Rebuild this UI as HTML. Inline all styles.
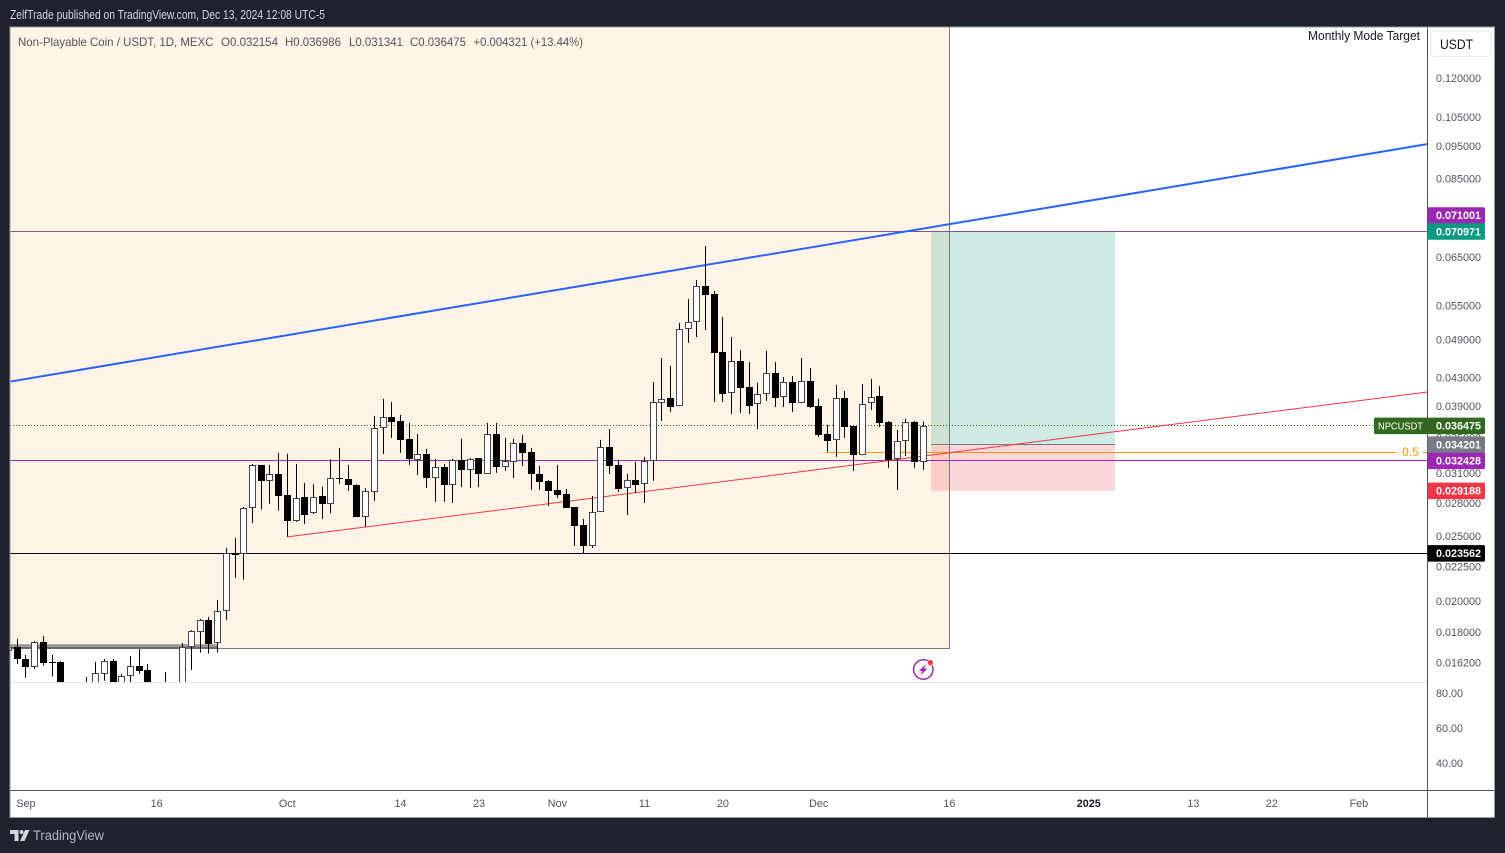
<!DOCTYPE html>
<html lang="en">
<head>
<meta charset="utf-8">
<title>NPCUSDT chart</title>
<style>
html,body{margin:0;padding:0;background:#1e222d;width:1505px;height:853px;overflow:hidden}
svg{display:block}
text{font-family:"Liberation Sans",sans-serif}
</style>
</head>
<body>
<svg id="chart" xmlns="http://www.w3.org/2000/svg" width="1505" height="853" viewBox="0 0 1505 853">
  <defs>
    <clipPath id="main-clip"><rect x="10.5" y="27.5" width="1416.5" height="654.5"/></clipPath>
  </defs>
  <rect x="0" y="0" width="1505" height="853" fill="#1e222d"/>
  <text x="10" y="19" font-size="12.5" fill="#d1d4dc" textLength="315" lengthAdjust="spacingAndGlyphs">ZelfTrade published on TradingView.com, Dec 13, 2024 12:08 UTC-5</text>
  <rect x="10" y="27" width="1484.5" height="790.5" fill="#ffffff" stroke="#9598a1" stroke-width="1"/>
  <g id="drawings" clip-path="url(#main-clip)"></g>
  <g id="candles" clip-path="url(#main-clip)"></g>
  <line x1="10.5" y1="682.5" x2="1427" y2="682.5" stroke="#e0e3eb" stroke-width="1"/>
  <line x1="10.5" y1="790.5" x2="1494" y2="790.5" stroke="#50535e" stroke-width="1"/>
  <line x1="1427.5" y1="27.5" x2="1427.5" y2="817" stroke="#50535e" stroke-width="1"/>
  <text x="18" y="46" font-size="12" fill="#50535e" textLength="195.5" lengthAdjust="spacingAndGlyphs">Non-Playable Coin / USDT, 1D, MEXC</text>
  <text x="221" y="46" font-size="12" fill="#50535e" textLength="57" lengthAdjust="spacingAndGlyphs">O0.032154</text>
  <text x="285" y="46" font-size="12" fill="#50535e" textLength="56" lengthAdjust="spacingAndGlyphs">H0.036986</text>
  <text x="349" y="46" font-size="12" fill="#50535e" textLength="54" lengthAdjust="spacingAndGlyphs">L0.031341</text>
  <text x="410" y="46" font-size="12" fill="#50535e" textLength="56" lengthAdjust="spacingAndGlyphs">C0.036475</text>
  <text x="473.5" y="46" font-size="12" fill="#50535e" textLength="109.5" lengthAdjust="spacingAndGlyphs">+0.004321 (+13.44%)</text>
  <text x="1308" y="40" font-size="12.5" fill="#131722" textLength="112" lengthAdjust="spacingAndGlyphs">Monthly Mode Target</text>
  <g id="price-ticks"></g>
  <g id="volume-ticks"></g>
  <g id="time-ticks"></g>
  <g id="price-tags"></g>
  <rect x="1431" y="31" width="60" height="25.5" rx="4" fill="#ffffff" stroke="#e6e9f2" stroke-width="1"/>
  <text x="1440" y="49" font-size="13.5" fill="#131722" textLength="33" lengthAdjust="spacingAndGlyphs">USDT</text>
  <text x="1402" y="456" font-size="12" fill="#ff9800" textLength="17" lengthAdjust="spacingAndGlyphs">0.5</text>
  <g>
    <circle cx="923.3" cy="669.5" r="9.7" fill="#ffffff" stroke="#9c27b0" stroke-width="1.5"/>
    <polygon points="926,664 919,671 922.5,671 920.5,675.5 927.5,668.5 924,668.5" fill="#9c27b0"/>
    <circle cx="930.3" cy="662.6" r="3" fill="#f23645" stroke="#ffffff" stroke-width="0.6"/>
  </g>
  <g>
    <polygon points="10,830 18.5,830 18.5,841 14.5,841 14.5,834 10,834" fill="#d1d4dc"/>
    <circle cx="21.5" cy="832" r="2" fill="#d1d4dc"/>
    <polygon points="25,830 29.5,830 24.5,841 20,841" fill="#d1d4dc"/>
    <text x="33" y="840" font-size="13.5" fill="#b2b5be" textLength="71" lengthAdjust="spacingAndGlyphs">TradingView</text>
  </g>
</svg>
<script>
// Candle data, daily from Aug 30 2024 to Dec 13 2024
var opens = [
.01684,.01707,.01638,.01593,.01738,.01622,.01623,.01450,.01430,.01440,
.01474,.01559,.01628,.01480,.01549,.01600,.01579,.01480,.01470,.01500,
.01490,.01707,.01797,.01872,.01730,.01931,.02356,.02348,.02754,.03185,
.03015,.03092,.02874,.02634,.02852,.02707,.02867,.02792,.03047,.03039,
.02977,.02667,.02909,.03623,.03757,.03706,.03485,.03243,.03311,.03052,
.03166,.02977,.03243,.03137,.03265,.03095,.03546,.03170,.03224,.03438,
.03333,.03092,.03018,.02926,.02887,.02760,.02595,.02418,.02716,.03391,
.03188,.02943,.03028,.02984,.03229,.03938,.04011,.03898,.05074,.05198,
.05886,.05727,.04695,.04075,.04552,.04164,.03925,.04062,.04369,.04020,
.04236,.03938,.04251,.03902,.03546,.03469,.04011,.03644,.03296,.03938,
.04038,.03694,.03251,.03458,.03694,.032154];
var highs = [
.01715,.01756,.01662,.01744,.01774,.01662,.01628,.01490,.01480,.01542,
.01623,.01640,.01640,.01558,.01656,.01697,.01612,.01510,.01568,.01515,
.01732,.01811,.01881,.01894,.02007,.02398,.02482,.02760,.03199,.03188,
.03188,.03322,.03311,.03199,.02997,.02987,.02957,.03251,.03380,.03188,
.02984,.02943,.03771,.03997,.03956,.03783,.03681,.03546,.03368,.03254,
.03199,.03254,.03485,.03265,.03265,.03681,.03681,.03497,.03485,.03534,
.03380,.03177,.03028,.03188,.02936,.02760,.02649,.02867,.03473,.03606,
.03243,.03092,.03221,.03277,.04236,.04598,.04475,.05185,.05628,.06007,
.06750,.05785,.05291,.04942,.04727,.04536,.04222,.04711,.04536,.04309,
.04324,.04598,.04444,.03997,.03657,.04193,.04107,.03644,.04207,.04280,
.04178,.03706,.03594,.03732,.03706,.036986];
var lows = [
.01680,.01612,.01538,.01586,.01603,.01544,.01420,.01400,.01390,.01410,
.01450,.01522,.01460,.01460,.01505,.01558,.01460,.01440,.01450,.01470,
.01470,.01579,.01676,.01670,.01676,.01874,.02164,.02151,.02611,.02735,
.02792,.02726,.02493,.02622,.02604,.02695,.02648,.02704,.02987,.02916,
.02667,.02577,.02818,.03311,.03497,.03322,.03188,.03081,.02946,.02809,
.02809,.02799,.02955,.02946,.02955,.03095,.03102,.03123,.03048,.03177,
.02926,.02926,.02770,.02848,.02751,.02415,.02358,.02398,.02714,.03092,
.02906,.02686,.02897,.02799,.03018,.03706,.03822,.03898,.04842,.04942,
.05062,.03956,.03956,.03796,.03809,.03796,.03606,.03970,.03888,.03888,
.03822,.03938,.03874,.03509,.03333,.03277,.03497,.03123,.03296,.03848,
.03630,.03156,.02926,.03288,.03156,.031341];
var closes = [
.01707,.01638,.01597,.01736,.01619,.01620,.01450,.01430,.01440,.01490,
.01561,.01627,.01480,.01546,.01599,.01575,.01480,.01470,.01500,.01490,
.01707,.01803,.01872,.01726,.01931,.02356,.02344,.02748,.03185,.03021,
.03088,.02870,.02634,.02845,.02686,.02852,.02790,.03046,.03044,.02977,
.02667,.02913,.03615,.03753,.03694,.03473,.03254,.03311,.03048,.03163,
.02977,.03243,.03134,.03251,.03092,.03546,.03166,.03232,.03434,.03322,
.03092,.03008,.02916,.02877,.02751,.02587,.02415,.02711,.03387,.03177,
.02936,.03025,.02977,.03232,.03952,.03993,.03893,.05074,.05198,.05878,
.05707,.04679,.04066,.04547,.04150,.03902,.04062,.04365,.04011,.04232,
.03942,.04246,.03888,.03534,.03461,.04006,.03630,.03300,.03925,.04020,
.03681,.03243,.03458,.03690,.03215,.036475];

// Axis ticks
var priceTicks = [0.12,0.105,0.095,0.085,0.065,0.055,0.049,0.043,0.039,0.035,0.031,0.028,0.025,0.0225,0.02,0.018,0.0162];
var volumeTicks = [80,60,40];
var timeTickLabels = ["Sep","16","Oct","14","23","Nov","11","20","Dec","16","2025","13","22","Feb"];
var timeTickBars = [2,17,32,45,54,63,73,82,93,108,124,136,145,155];
var timeTickBold = ["2025"];

// Drawing levels (prices and bar indexes)
var levelEntry = 0.034201;
var levelTarget = 0.070971;
var levelStop = 0.029188;
var levelLast = 0.036475;
var levelPurple = 0.032428;
var levelPurpleTop = 0.071001;
var levelBlack = 0.023562;
var levelFib = 0.03328;
var rangeBoxBottom = 0.01700;
var rangeBandTop = 0.01725;
var rangeBoxEndBar = 108;
var rangeBandEndBar = 24;
var positionBars = [106,127];
var blueTrendBars = [0.26,162.9];
var blueTrendPrices = [0.04243,0.09571];
var redTrendBars = [32,162.9];
var redTrendPrices = [0.02491,0.04093];
var fibStartBar = 93.8;

var NS = "http://www.w3.org/2000/svg";
function xBar(i){ return 287.3 + 8.712 * (i - 32); }
function yPrice(p){ return 78 + 291.9 * Math.log(0.12 / p); }
function yLine(p){ return Math.floor(yPrice(p) + 0.2) + 0.5; }
function yVolume(v){ return 693 + (80 - v) * 1.75; }
function mk(parent, tag, attrs, txt){
  var node = document.createElementNS(NS, tag);
  for (var k in attrs) node.setAttribute(k, attrs[k]);
  if (txt !== undefined) node.textContent = txt;
  parent.appendChild(node);
  return node;
}
var dr = document.getElementById("drawings");
var el;

// Range box
var boxRight = Math.floor(xBar(rangeBoxEndBar)) + 0.5;
var boxBottom = Math.round(yPrice(rangeBoxBottom)) + 0.5;
el = mk(dr, "rect", {x:10, y:27, width:boxRight-10, height:boxBottom-27, fill:"#fff4e5", stroke:"#787b86", "stroke-width":1});


var bandTop = yPrice(rangeBandTop);
el = mk(dr, "rect", {x:10, y:bandTop, width:xBar(rangeBandEndBar)-10, height:boxBottom-bandTop, fill:"#9c978e"});


el = mk(dr, "line", {x1:10, y1:boxBottom-0.5, x2:xBar(rangeBandEndBar), y2:boxBottom-0.5, stroke:"#6a6c75", "stroke-width":2});



// Long position tool
var posL = Math.floor(xBar(positionBars[0]));
var posR = Math.round(xBar(positionBars[1]));
var yT = Math.round(yPrice(levelTarget));
var yE = Math.round(yPrice(levelEntry));
var yS = Math.round(yPrice(levelStop));
el = mk(dr, "rect", {x:posL, y:yT, width:posR-posL, height:yE-yT, fill:"#089981", "fill-opacity":0.2});


el = mk(dr, "rect", {x:posL, y:yE, width:posR-posL, height:yS-yE, fill:"#f23645", "fill-opacity":0.2});


el = mk(dr, "line", {x1:posL, y1:yE+0.5, x2:posR, y2:yE+0.5, stroke:"#787b86", "stroke-width":1});


// Redraw box right edge above the position zones
el = mk(dr, "line", {x1:boxRight, y1:27, x2:boxRight, y2:boxBottom, stroke:"#787b86", "stroke-width":1});



// Horizontal levels
el = mk(dr, "line", {x1:10, y1:yLine(levelPurpleTop), x2:1427, y2:yLine(levelPurpleTop), stroke:"#7d5a85", "stroke-width":1});


el = mk(dr, "line", {x1:10, y1:yLine(levelPurple), x2:1427, y2:yLine(levelPurple), stroke:"#9c27b0", "stroke-width":1});


el = mk(dr, "line", {x1:10, y1:yLine(levelBlack), x2:1427, y2:yLine(levelBlack), stroke:"#000000", "stroke-width":1});


el = mk(dr, "line", {x1:10, y1:yLine(levelLast), x2:1374, y2:yLine(levelLast), stroke:"#33691e", "stroke-width":1, "stroke-dasharray":"1 2"});


el = mk(dr, "line", {x1:xBar(fibStartBar), y1:yLine(levelFib), x2:1397, y2:yLine(levelFib), stroke:"#ff9800", "stroke-width":1});


el = mk(dr, "line", {x1:1423, y1:yLine(levelFib), x2:1427, y2:yLine(levelFib), stroke:"#ff9800", "stroke-width":1});



// Trend lines
el = mk(dr, "line", {x1:xBar(redTrendBars[0]), y1:yPrice(redTrendPrices[0]), x2:xBar(redTrendBars[1]), y2:yPrice(redTrendPrices[1]), stroke:"#f23645", "stroke-width":1});


el = mk(dr, "line", {x1:xBar(blueTrendBars[0]), y1:yPrice(blueTrendPrices[0]), x2:xBar(blueTrendBars[1]), y2:yPrice(blueTrendPrices[1]), stroke:"#2962ff", "stroke-width":2});



// Candles
var cg = document.getElementById("candles");
for (var i = 0; i < opens.length; i++) {
  var isUp = closes[i] >= opens[i];
  var px = Math.floor(xBar(i));
  var bodyTop = Math.round(yPrice(Math.max(opens[i], closes[i])));
  var bodyBot = Math.round(yPrice(Math.min(opens[i], closes[i])));
  if (bodyBot - bodyTop < 1) bodyBot = bodyTop + 1;
  var wick = mk(cg, "line", {x1:px+0.5, y1:yPrice(highs[i]), x2:px+0.5, y2:yPrice(lows[i]), stroke:"#000000", "stroke-width":1});
  
  
  var body;
  if (isUp) {
    body = mk(cg, "rect", {x:px-2.5, y:bodyTop+0.5, width:6, height:Math.max(bodyBot-bodyTop-1,0.5), fill:"#ffffff", stroke:"#434651", "stroke-width":1});
  } else {
    body = mk(cg, "rect", {x:px-3, y:bodyTop, width:7, height:bodyBot-bodyTop, fill:"#000000"});
  }
  
  
}

// Price axis
var pg = document.getElementById("price-ticks");
priceTicks.forEach(function(p){
  var t = mk(pg, "text", {x:1436, y:yPrice(p)+4, "font-size":10.8, fill:"#50535e"}, p.toFixed(6));
  
  
});

// Volume axis
var vg = document.getElementById("volume-ticks");
volumeTicks.forEach(function(v){
  var t = mk(vg, "text", {x:1436, y:yVolume(v)+4, "font-size":10.8, fill:"#50535e"}, v.toFixed(2));
  
  
});

// Time axis
var tg = document.getElementById("time-ticks");
timeTickLabels.forEach(function(lbl, k){
  var bold = timeTickBold.indexOf(lbl) >= 0;
  var t = mk(tg, "text", {x:xBar(timeTickBars[k]), y:807, "font-size":10.8, "text-anchor":"middle", fill:bold ? "#131722" : "#50535e", "font-weight":bold ? "bold" : "normal"}, lbl);
  
  
});

// Price tags
var tagPrices = [levelPurpleTop, levelTarget, levelEntry, levelPurple, levelLast, levelStop, levelBlack];
var tagColors = ["#9c27b0","#089981","#787b86","#9c27b0","#33691e","#f23645","#000000"];
var tagNudges = [-16,0,0,0.7,0,0,0];
var tg2 = document.getElementById("price-tags");
tagPrices.forEach(function(p, k){
  var cy = yPrice(p) + tagNudges[k];
  var r = mk(tg2, "rect", {x:1427.5, y:cy-8, width:57.5, height:16.5, rx:1.5, fill:tagColors[k]});
  
  
  var t = mk(tg2, "text", {x:1436, y:cy+4, "font-size":10.8, "font-weight":"bold", fill:"#ffffff"}, p.toFixed(6));
  
  
});
var symTop = yPrice(levelLast) - 8;
var symBg = mk(tg2, "rect", {x:1374, y:symTop, width:53.5, height:16.5, rx:1.5, fill:"#33691e"});


var symTx = mk(tg2, "text", {x:1378, y:symTop+12, "font-size":10.5, fill:"#ffffff", textLength:45, lengthAdjust:"spacingAndGlyphs"}, "NPCUSDT");


</script>
</body>
</html>
